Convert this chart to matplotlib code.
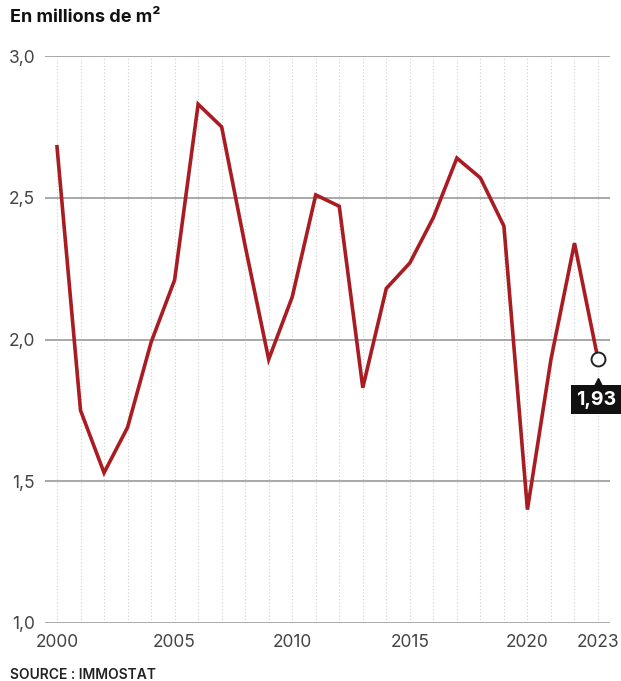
import matplotlib
matplotlib.use("Agg")
import matplotlib.pyplot as plt
from matplotlib.transforms import offset_copy

years = list(range(2000, 2024))
values = [2.68, 1.75, 1.53, 1.69, 1.99, 2.21, 2.83, 2.75, 2.33, 1.93, 2.15, 2.51,
          2.47, 1.83, 2.18, 2.27, 2.43, 2.64, 2.57, 2.40, 1.40, 1.93, 2.34, 1.93]
xtick_vals = [2000, 2005, 2010, 2015, 2020, 2023]
ytick_vals = [1.0, 1.5, 2.0, 2.5, 3.0]
ytick_labels = ["1,0", "1,5", "2,0", "2,5", "3,0"]
last_label = "1,93"

plt.rcParams['font.family'] = ['Inter', 'DejaVu Sans']

fig = plt.figure(figsize=(6.21, 6.81), dpi=100)
ax = fig.add_axes([45/621, 1-623/681, 565/621, 567/681])
ax.set_xlim(1999.49, 2023.51)
ax.set_ylim(1.0, 3.0)

for y in years:
    ax.axvline(y, color='#cfcfcf', lw=0.8, ls=(0, (1, 2)), zorder=1)
for v in ytick_vals:
    ax.axhline(v, color='#9a9a9a', lw=1.2, zorder=2)

ax.plot(years, values, color='#a81c22', lw=2.6, solid_joinstyle='miter', zorder=3)
ax.plot(years[-1], values[-1], 'o', ms=10, mfc='white', mec='#222222', mew=1.4, zorder=5)

ax.annotate(last_label, xy=(years[-1], values[-1]), xytext=(-1, -29), textcoords='offset points',
            ha='center', va='center', color='white', fontsize=14, fontweight='bold',
            bbox=dict(boxstyle='square,pad=0.28', fc='#111111', ec='none'), zorder=6,
            annotation_clip=False)
tr = offset_copy(ax.transData, fig=fig, x=0, y=-17, units='points')
ax.plot([years[-1]], [values[-1]], marker='^', ms=7, color='#111111', transform=tr,
        zorder=6, linestyle='none', clip_on=False)

for s in ax.spines.values():
    s.set_visible(False)
ax.set_xticks(xtick_vals)
ax.set_xticklabels([str(x) for x in xtick_vals])
ax.set_yticks(ytick_vals)
ax.set_yticklabels(ytick_labels)
ax.tick_params(axis='both', length=0, labelsize=12.5, labelcolor='#444444')
ax.tick_params(axis='x', pad=8)
ax.tick_params(axis='y', pad=7)

fig.text(10/621, 1-18/681, "En millions de m²", fontsize=13, fontweight='bold', color='#111111', va='center')
fig.text(10/621, 1-675/681, "SOURCE : IMMOSTAT", fontsize=10, fontweight='semibold', color='#222222', va='center')

fig.savefig("out.png", dpi=100)
